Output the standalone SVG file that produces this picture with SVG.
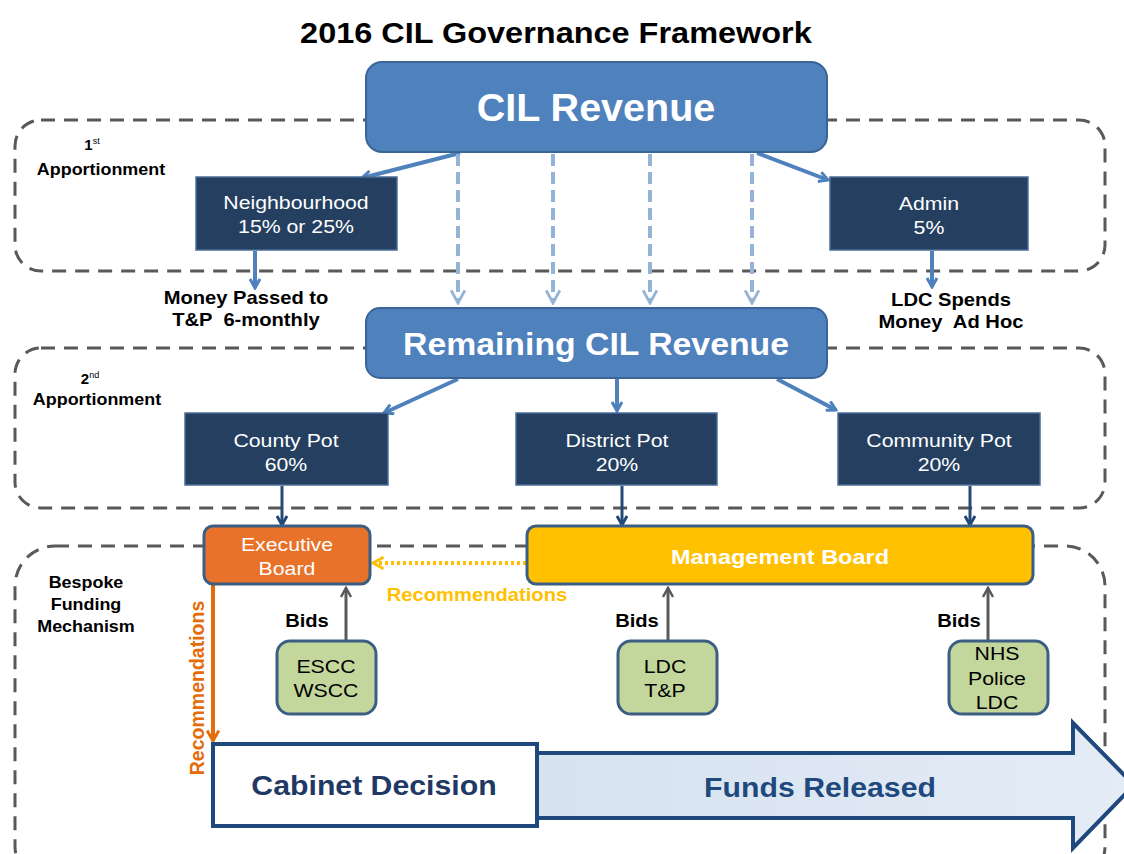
<svg xmlns="http://www.w3.org/2000/svg" width="1124" height="854" viewBox="0 0 1124 854">
<defs>
<style>
text{font-family:"Liberation Sans",Arial,sans-serif;white-space:pre}
.s{transform-box:fill-box;transform-origin:center;transform:scaleX(1.12)}
.zone{fill:none;stroke:#595959;stroke-width:3;stroke-dasharray:14 9}
.big{fill:#4F81BD;stroke:#3A6596;stroke-width:2}
.pot{fill:#243F60;stroke:#4A6E98;stroke-width:1.5}
.bid{fill:#C3D69B;stroke:#3B5E82;stroke-width:3}
.wt{fill:#fff;font-size:19px;text-anchor:middle}
.bk{fill:#000;font-size:18px;font-weight:bold;text-anchor:middle}
.lb{fill:#000;font-size:16px;font-weight:bold;text-anchor:middle}
.bt{fill:#000;font-size:19px;text-anchor:middle}
.sl{stroke:#4F81BD;stroke-width:4;fill:none}
.dl{stroke:#95B3D7;stroke-width:4;fill:none;stroke-dasharray:12 6}
.nl{stroke:#244A7A;stroke-width:3;fill:none}
.gl{stroke:#595959;stroke-width:3;fill:none}
</style>
<marker id="mb" viewBox="0 0 12 12" refX="10" refY="6" markerWidth="12" markerHeight="12" markerUnits="userSpaceOnUse" orient="auto"><path d="M1,1 L10,6 L1,11" fill="none" stroke="#4F81BD" stroke-width="3"/></marker>
<marker id="ml" viewBox="0 0 14 14" refX="12" refY="7" markerWidth="16" markerHeight="16" markerUnits="userSpaceOnUse" orient="auto"><path d="M1,1 L12,7 L1,13" fill="none" stroke="#95B3D7" stroke-width="2.5"/></marker>
<marker id="mn" viewBox="0 0 12 12" refX="10" refY="6" markerWidth="12" markerHeight="12" markerUnits="userSpaceOnUse" orient="auto"><path d="M1,1 L10,6 L1,11" fill="none" stroke="#244A7A" stroke-width="3"/></marker>
<marker id="mg" viewBox="0 0 12 12" refX="10" refY="6" markerWidth="12" markerHeight="12" markerUnits="userSpaceOnUse" orient="auto"><path d="M1,1 L10,6 L1,11" fill="none" stroke="#595959" stroke-width="2.5"/></marker>
<marker id="mo" viewBox="0 0 12 12" refX="10" refY="6" markerWidth="14" markerHeight="14" markerUnits="userSpaceOnUse" orient="auto"><path d="M1,1 L10,6 L1,11" fill="none" stroke="#E46C0A" stroke-width="2.5"/></marker>
<marker id="my" viewBox="0 0 12 12" refX="10" refY="6" markerWidth="14" markerHeight="14" markerUnits="userSpaceOnUse" orient="auto"><path d="M1,1 L10,6 L1,11" fill="none" stroke="#FFC000" stroke-width="2.5"/></marker>
<linearGradient id="fg" x1="0" y1="0" x2="1" y2="0"><stop offset="0" stop-color="#D6E2F0"/><stop offset="1" stop-color="#E4ECF6"/></linearGradient>
</defs>
<rect width="1124" height="854" fill="#fff"/>
<text class="s" x="556" y="43" font-size="29" font-weight="bold" text-anchor="middle" fill="#000">2016 CIL Governance Framework</text>

<g id="zones">
<rect class="zone" x="15" y="120" width="1090" height="151" rx="26"/>
<rect class="zone" x="15" y="348" width="1090" height="160" rx="26"/>
<rect class="zone" x="15" y="546" width="1090" height="340" rx="40"/>
<text x="92" y="150" font-size="15" font-weight="bold" text-anchor="middle">1<tspan font-size="9" font-weight="normal" dy="-6">st</tspan></text>
<text class="lb s" x="101" y="175">Apportionment</text>
<text x="90" y="384" font-size="15" font-weight="bold" text-anchor="middle">2<tspan font-size="9" font-weight="normal" dy="-6">nd</tspan></text>
<text class="lb s" x="97" y="405">Apportionment</text>
<text class="lb s" x="86" y="588">Bespoke</text>
<text class="lb s" x="86" y="610">Funding</text>
<text class="lb s" x="86" y="632">Mechanism</text>
</g>

<g id="connectors">
<line class="sl" x1="460" y1="153" x2="362" y2="178" marker-end="url(#mb)"/>
<line class="sl" x1="757" y1="153" x2="828" y2="180" marker-end="url(#mb)"/>
<line class="dl" x1="458" y1="154" x2="458" y2="303" marker-end="url(#ml)"/>
<line class="dl" x1="553" y1="154" x2="553" y2="303" marker-end="url(#ml)"/>
<line class="dl" x1="650" y1="154" x2="650" y2="303" marker-end="url(#ml)"/>
<line class="dl" x1="752" y1="154" x2="752" y2="303" marker-end="url(#ml)"/>
<line class="sl" x1="255" y1="251" x2="255" y2="288" marker-end="url(#mb)" stroke-width="3"/>
<line class="sl" x1="932" y1="251" x2="932" y2="287" marker-end="url(#mb)" stroke-width="3"/>
<line class="sl" x1="458" y1="379" x2="384" y2="413" marker-end="url(#mb)"/>
<line class="sl" x1="617" y1="379" x2="617" y2="411" marker-end="url(#mb)"/>
<line class="sl" x1="777" y1="379" x2="836" y2="410" marker-end="url(#mb)"/>
<line class="nl" x1="282" y1="486" x2="282" y2="525" marker-end="url(#mn)"/>
<line class="nl" x1="622" y1="486" x2="622" y2="525" marker-end="url(#mn)"/>
<line class="nl" x1="970" y1="486" x2="970" y2="525" marker-end="url(#mn)"/>
<line x1="526" y1="563" x2="373" y2="563" stroke="#FFC000" stroke-width="4" stroke-dasharray="3 3" marker-end="url(#my)"/>
<line x1="213" y1="585" x2="213" y2="741" stroke="#E46C0A" stroke-width="4" marker-end="url(#mo)"/>
<line class="gl" x1="346" y1="640" x2="346" y2="588" marker-end="url(#mg)"/>
<line class="gl" x1="668" y1="640" x2="668" y2="588" marker-end="url(#mg)"/>
<line class="gl" x1="988" y1="640" x2="988" y2="588" marker-end="url(#mg)"/>
<text class="bk s" x="246" y="304">Money Passed to</text>
<text class="bk s" x="246" y="326">T&amp;P  6-monthly</text>
<text class="bk s" x="951" y="306">LDC Spends</text>
<text class="bk s" x="951" y="328">Money  Ad Hoc</text>
<text class="s" x="477" y="601" font-size="18" font-weight="bold" fill="#FFC000" text-anchor="middle">Recommendations</text>
<text transform="translate(204,688) rotate(-90)" font-size="19.5" font-weight="bold" fill="#E46C0A" text-anchor="middle">Recommendations</text>
<text class="bk s" x="307" y="627">Bids</text>
<text class="bk s" x="637" y="627">Bids</text>
<text class="bk s" x="959" y="627">Bids</text>
</g>

<g id="cil-revenue">
<rect class="big" x="366" y="62" width="461" height="90" rx="16"/>
<text x="596" y="121" font-size="38" font-weight="bold" fill="#fff" text-anchor="middle" style="transform-box:fill-box;transform-origin:center;transform:scaleX(1.04)">CIL Revenue</text>
</g>
<g id="neighbourhood">
<rect class="pot" x="196" y="177" width="201" height="73"/>
<text class="wt s" x="296" y="209">Neighbourhood</text>
<text class="wt s" x="296" y="233">15% or 25%</text>
</g>
<g id="admin">
<rect class="pot" x="830" y="177" width="198" height="73"/>
<text class="wt s" x="929" y="210">Admin</text>
<text class="wt s" x="929" y="234">5%</text>
</g>
<g id="remaining">
<rect class="big" x="366" y="308" width="461" height="70" rx="14"/>
<text x="596" y="355" font-size="31" font-weight="bold" fill="#fff" text-anchor="middle" style="transform-box:fill-box;transform-origin:center;transform:scaleX(1.09)">Remaining CIL Revenue</text>
</g>
<g id="county-pot">
<rect class="pot" x="185" y="413" width="203" height="72"/>
<text class="wt s" x="286" y="447">County Pot</text>
<text class="wt s" x="286" y="471">60%</text>
</g>
<g id="district-pot">
<rect class="pot" x="516" y="413" width="201" height="72"/>
<text class="wt s" x="617" y="447">District Pot</text>
<text class="wt s" x="617" y="471">20%</text>
</g>
<g id="community-pot">
<rect class="pot" x="838" y="413" width="202" height="72"/>
<text class="wt s" x="939" y="447">Community Pot</text>
<text class="wt s" x="939" y="471">20%</text>
</g>
<g id="executive-board">
<rect x="204" y="526" width="166" height="58" rx="9" fill="#E8722A" stroke="#3B5E82" stroke-width="3"/>
<text class="wt s" x="287" y="551" font-size="18">Executive</text>
<text class="wt s" x="287" y="575" font-size="18">Board</text>
</g>
<g id="management-board">
<rect x="527" y="526" width="506" height="58" rx="9" fill="#FFC000" stroke="#3B5E82" stroke-width="3"/>
<text class="s" x="780" y="564" font-size="21" font-weight="bold" fill="#fff" text-anchor="middle">Management Board</text>
</g>
<g id="escc">
<rect class="bid" x="277" y="641" width="99" height="73" rx="13"/>
<text class="bt s" x="326" y="673">ESCC</text>
<text class="bt s" x="326" y="697">WSCC</text>
</g>
<g id="ldc-tp">
<rect class="bid" x="618" y="641" width="99" height="73" rx="13"/>
<text class="bt s" x="665" y="673">LDC</text>
<text class="bt s" x="665" y="697">T&amp;P</text>
</g>
<g id="nhs">
<rect class="bid" x="949" y="641" width="99" height="73" rx="13"/>
<text class="bt s" x="997" y="660">NHS</text>
<text class="bt s" x="997" y="685">Police</text>
<text class="bt s" x="997" y="709">LDC</text>
</g>
<g id="funds-released">
<path d="M537,753 L1073,753 L1073,723 L1134,785 L1073,848 L1073,818 L537,818 Z" fill="url(#fg)" stroke="#1F497D" stroke-width="4" stroke-linejoin="miter"/>
<text class="s" x="820" y="797" font-size="27" font-weight="bold" fill="#1F497D" text-anchor="middle">Funds Released</text>
</g>
<g id="cabinet-decision">
<rect x="213" y="744" width="324" height="82" fill="#fff" stroke="#1F497D" stroke-width="4"/>
<text class="s" x="374" y="795" font-size="27" font-weight="bold" fill="#1F3864" text-anchor="middle">Cabinet Decision</text>
</g>
</svg>
